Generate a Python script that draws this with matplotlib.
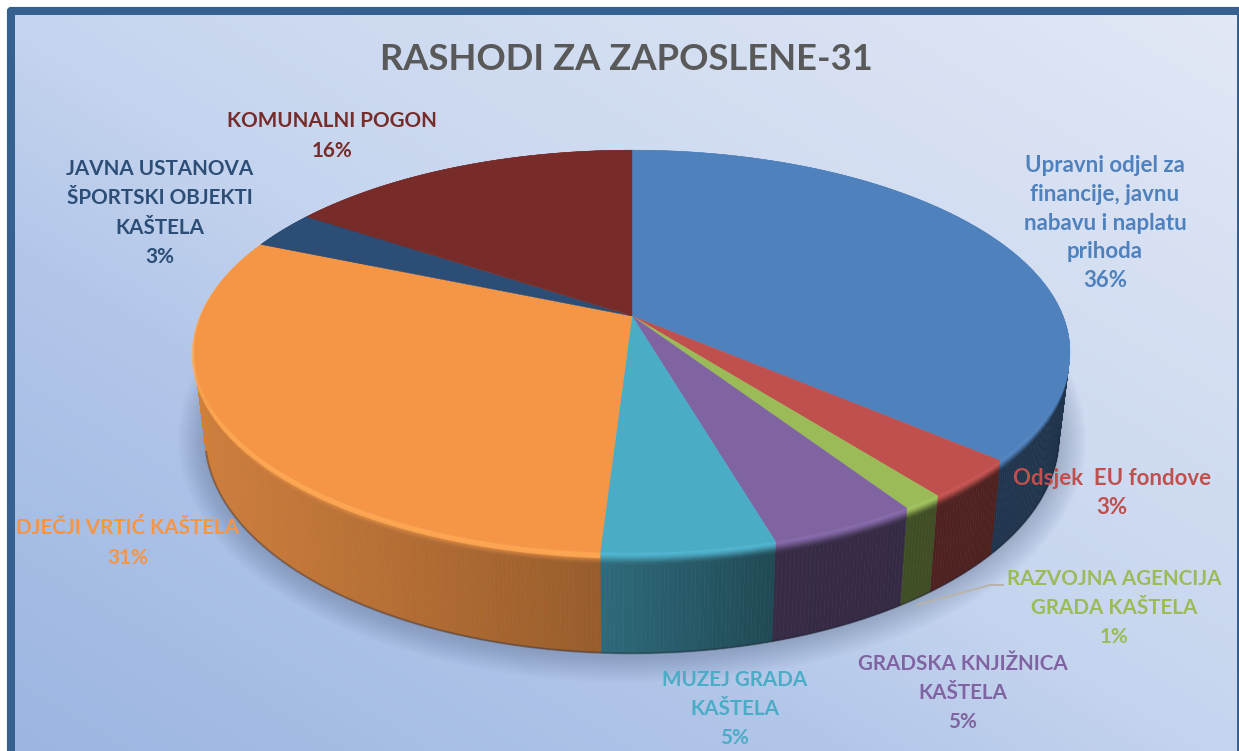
#!/usr/bin/env python3

import numpy as np
import matplotlib
matplotlib.use('Agg')
import matplotlib.pyplot as plt
from matplotlib.collections import PolyCollection
from matplotlib.colors import LinearSegmentedColormap, to_rgb
from matplotlib.patches import FancyBboxPatch

# data, clockwise from the top of the pie
labels = [
    'Upravni odjel za\nfinancije, javnu\nnabavu i naplatu\nprihoda',
    'Odsjek  EU fondove',
    'RAZVOJNA AGENCIJA\nGRADA KAŠTELA',
    'GRADSKA KNJIŽNICA\nKAŠTELA',
    'MUZEJ GRADA\nKAŠTELA',
    'DJEČJI VRTIĆ KAŠTELA',
    'JAVNA USTANOVA\nŠPORTSKI OBJEKTI\nKAŠTELA',
    'KOMUNALNI POGON',
]
values = [36.5, 3.2, 1.3, 4.7, 5.45, 30.55, 3.05, 15.6]
colors = ['#4f81bd', '#c0504d', '#9bbb59', '#8064a2', '#4bacc6', '#f59546', '#2c4d75', '#772c2a']
label_x = [1105, 1112, 1114, 963, 735, 128, 160, 332]
label_y = [223, 493, 608, 693, 709, 543, 213, 136]

TITLE = 'RASHODI ZA ZAPOSLENE-31'
W, H = 1239, 751

# pie geometry in pixels (the chart was a perspective 3D pie)
CX, CY = 632, 316
RX, RY = 431, 195
PERSP = 0.176
WALL = 83
BEVEL = 12


def rim(theta):
    """Screen position of the rim, theta in degrees clockwise from the top."""
    t = np.radians(theta)
    depth = -np.cos(t)
    s = 1 / (1 - PERSP * depth)
    return CX + RX * np.sin(t) * s, CY + RY * depth * s, s


def wall_point(theta, down):
    """Point on the pie side, down=0 at the top edge and 1 at the bottom edge."""
    x, y, s = rim(theta)
    return CX + (x - CX) * (1 - 0.025 * down), y + WALL * s * down


def shade(x):
    return np.interp(x, [195, 600, 770, 1070], [0.85, 0.62, 0.43, 0.40])


def draw_background(ax):
    ax.add_patch(FancyBboxPatch((9, 9), W, H, boxstyle='round,pad=0,rounding_size=2',
                                fc='#35608f', ec='#35608f', lw=3, zorder=0))
    cmap = LinearSegmentedColormap.from_list(
        'bg', [(0, '#9cb6e2'), (0.33, '#b2c6e9'), (0.5, '#c6d5ef'), (1, '#e2e8f5')])
    xx, yy = np.meshgrid(np.linspace(0, 1, 200), np.linspace(0, 1, 200))
    # yy runs downwards because of the inverted axis
    ax.imshow((xx + 1 - yy) / 2, cmap=cmap, vmin=0, vmax=1, extent=(15, W - 2, H, 15),
              aspect='auto', zorder=1, interpolation='bilinear')


def draw_shadow(ax):
    # closed outline of the pie bottom, so the strokes have no ends to show
    theta = np.linspace(0, 360, 361)
    x, y = wall_point(theta, 1)
    for lw in np.arange(3, 40, 3):
        ax.plot(x, y + 2, color='#3d4f70', alpha=0.024, lw=lw, zorder=2)


def draw_walls(ax, starts, ends):
    levels = [0, 0.15, 0.3, 0.45, 0.6, 0.75, 0.9, 1.0]
    polys, cols = [], []
    for start, end, color in zip(starts, ends, colors):
        base = np.array(to_rgb(color))
        top = np.clip(base * 1.06, 0, 1)
        edges = np.arange(start, end, 0.5)
        edges = np.append(edges, end)
        for a, b in zip(edges[:-1], edges[1:]):
            mid_x = wall_point((a + b) / 2, 0)[0]
            dark = base * shade(mid_x)
            s = rim(a)[2]
            # bevel rows just under the rim, then the flat side
            for u, v in zip(levels[:-1], levels[1:]):
                d0 = u * BEVEL / (WALL * s)
                d1 = v * BEVEL / (WALL * s)
                w = u * u * (3 - 2 * u)
                polys.append([wall_point(a, d0), wall_point(b, d0), wall_point(b, d1), wall_point(a, d1)])
                cols.append(top * (1 - w) + dark * w)
            d1 = BEVEL / (WALL * s)
            polys.append([wall_point(a, d1), wall_point(b, d1), wall_point(b, 1), wall_point(a, 1)])
            cols.append(dark)
    ax.add_collection(PolyCollection(polys, facecolors=cols, edgecolors=cols, linewidths=0.4, zorder=3))

    # darker line along the bottom edge
    theta = np.linspace(100, 256, 200)
    x, y = wall_point(theta, 1)
    ax.plot(x, y, color='#1c2233', alpha=0.35, lw=1.5, zorder=4)


def draw_top(ax, starts, ends):
    for start, end, color in zip(starts, ends, colors):
        theta = np.linspace(start, end, 120)
        x, y, _ = rim(theta)
        ax.fill(np.r_[CX, x], np.r_[CY, y], color=color, lw=0.3, zorder=5)

    # orange rim catches the light on the left side
    i = labels.index('DJEČJI VRTIĆ KAŠTELA')
    theta = np.linspace(starts[i], ends[i], 200)
    x, y, s = rim(theta)
    ax.plot(x, y + 3 * s, color='#ffaa55', alpha=0.8, lw=3.5, solid_capstyle='butt', zorder=4)


def draw_labels(ax):
    for text, value, x, y, color in zip(labels, values, label_x, label_y, colors):
        # Lato runs narrower than the original font in lower case
        size, spacing = (16, 1.47) if text != text.upper() else (14.9, 1.58)
        ax.text(x, y, f'{text}\n{round(value)}%', color=color, fontsize=size, fontweight='bold',
                ha='center', va='center', linespacing=spacing, zorder=8)
    ax.plot([917, 990, 1003], [605, 585, 585], color='#b8b4ac', lw=1.4, zorder=7)
    ax.text(626.5, 60, TITLE, color='#595959', fontsize=26.2, fontweight='bold',
            ha='center', va='center', zorder=8)


def main():
    plt.rcParams['font.family'] = ['Lato', 'DejaVu Sans']

    fig = plt.figure(figsize=(W / 100, H / 100), dpi=100, facecolor='white')
    ax = fig.add_axes([0, 0, 1, 1])
    ax.set_axis_off()

    shares = np.array(values) / sum(values) * 360
    ends = np.cumsum(shares)
    starts = ends - shares

    draw_background(ax)
    draw_shadow(ax)
    draw_walls(ax, starts, ends)
    draw_top(ax, starts, ends)
    draw_labels(ax)

    ax.set_xlim(0, W)
    ax.set_ylim(H, 0)
    fig.savefig('out.png', dpi=100)


if __name__ == "__main__":
    main()
